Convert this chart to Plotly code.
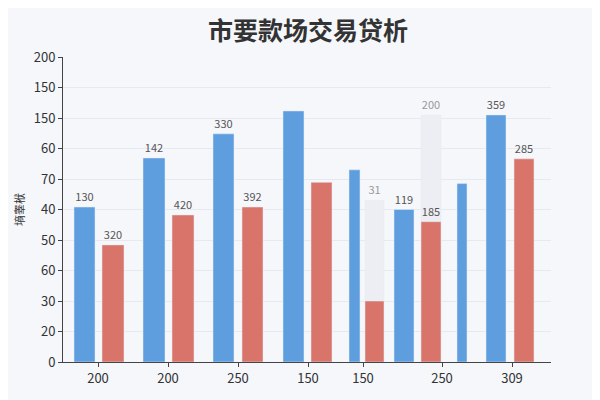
import plotly.graph_objects as go

# bar centres along the axis (axis runs 62..550) and widths
blue_x = [83.5, 153, 222.5, 292.5, 353.5, 403, 461, 495]
blue_w = [21, 22, 21, 21, 11, 20, 10, 20]
blue_h = [5.08, 6.69, 7.48, 8.23, 6.3, 5.0, 5.85, 8.1]
blue_txt = ["130", "142", "330", "", "", "119", "", "359"]

red_x = [112, 182, 251.5, 320.5, 373.5, 430, 523]
red_w = [22, 22, 21, 21, 19, 20, 20]
red_h = [3.84, 4.82, 5.08, 5.89, 2.0, 4.6, 6.66]
red_txt = ["320", "420", "392", "", "", "185", "285"]

ghost_x = [373.5, 430]
ghost_h = [5.3, 8.1]
ghost_txt = ["31", "200"]

tick_pos = [97, 167, 237, 307, 362, 441, 511]
tick_lab = ["200", "200", "250", "150", "150", "250", "309"]
ytick_lab = ["0", "20", "30", "60", "50", "40", "70", "60", "150", "150", "200"]

fig = go.Figure()
fig.add_bar(x=ghost_x, y=ghost_h, width=[19, 20], marker_color="#eceef3",
            text=ghost_txt, textposition="outside", textfont=dict(color="#999", size=11))
fig.add_bar(x=blue_x, y=blue_h, width=blue_w, marker_color="#5f9ede",
            text=blue_txt, textposition="outside", textfont=dict(color="#555", size=11))
fig.add_bar(x=red_x, y=red_h, width=red_w, marker_color="#d9746b",
            text=red_txt, textposition="outside", textfont=dict(color="#555", size=11))

fig.update_layout(
    width=600, height=400, barmode="overlay", showlegend=False,
    paper_bgcolor="#f5f7fb", plot_bgcolor="#f5f7fb",
    margin=dict(l=55, r=57, t=49, b=46),
    font=dict(family="Noto Sans CJK SC", color="#333"),
    title=dict(text="<b>市要款场交易贷析</b>", x=0.5, y=0.965, xanchor="center",
               font=dict(size=25, color="#333")),
    uniformtext=dict(minsize=11, mode="show"),
)
fig.update_xaxes(range=[62, 550], tickvals=tick_pos, ticktext=tick_lab, showgrid=False,
                 showline=True, linecolor="#444", ticks="outside", ticklen=4,
                 tickfont=dict(size=13), zeroline=False)
fig.update_yaxes(range=[0, 10], tickvals=list(range(11)), ticktext=ytick_lab,
                 showline=True, linecolor="#444", ticks="outside", ticklen=4,
                 gridcolor="#e6e9f0", tickfont=dict(size=13), zeroline=False,
                 title=dict(text="墒睾栿", font=dict(size=11), standoff=6))
fig.write_html("out.html")
